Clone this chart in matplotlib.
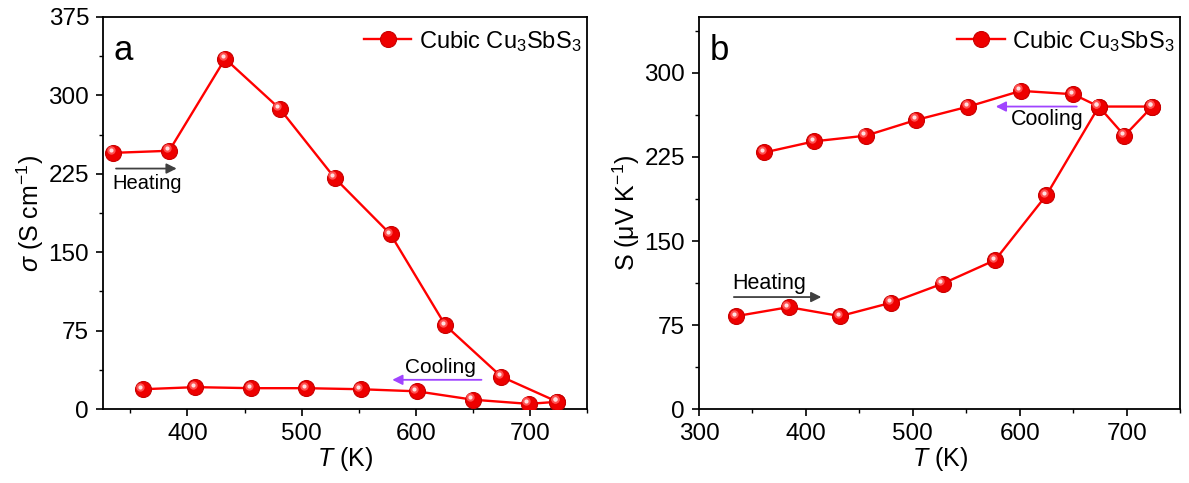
import matplotlib.pyplot as plt
import numpy as np
from matplotlib.ticker import MultipleLocator
from matplotlib.transforms import offset_copy

plt.rcParams['font.family'] = ['Liberation Sans', 'DejaVu Sans']
plt.rcParams['mathtext.fontset'] = 'custom'
plt.rcParams['mathtext.rm'] = 'Liberation Sans'
plt.rcParams['mathtext.it'] = 'Liberation Sans:italic'

# panel a: electrical conductivity
T_heat_a = [335, 384, 433, 481, 529, 578, 626, 675, 724]
sigma_heat = [245, 247, 335, 287, 221, 167, 80, 31, 7]
T_cool_a = [724, 699, 650, 601, 552, 504, 456, 407, 361]
sigma_cool = [7, 5, 9, 17, 19, 20, 20, 21, 19]

# panel b: Seebeck coefficient
T_heat_b = [335, 384, 432, 480, 528, 577, 625, 674, 724]
S_heat = [83, 91, 83, 95, 112, 133, 191, 270, 270]
T_cool_b = [724, 698, 674, 650, 601, 552, 503, 456, 408, 361]
S_cool = [270, 244, 270, 281, 284, 270, 258, 244, 239, 229]

legend_label = 'Cubic Cu$_3$SbS$_3$'
red = '#FF0000'


def draw_series(ax, x, y, label=None):
    ax.plot(x, y, '-', color=red, lw=1.7, marker='o', ms=11.5,
            mfc='#EE0000', mec='#C80000', mew=0.8, label=label, zorder=3)
    # light spot on the upper left, like the shaded spheres
    shift = offset_copy(ax.transData, fig=ax.figure, x=-2.5, y=2.5, units='dots')
    ax.plot(x, y, 'o', ms=6, mfc='#FF5050', mec='none', zorder=4,
            transform=shift)
    ax.plot(x, y, 'o', ms=3, mfc='#FFE0E0', mec='none', zorder=5,
            transform=shift)


def style_axis(ax, ymax, xmin):
    ax.set_xlim(xmin, 750)
    ax.set_ylim(0, ymax)
    ax.xaxis.set_major_locator(MultipleLocator(100))
    ax.xaxis.set_minor_locator(MultipleLocator(50))
    ax.yaxis.set_major_locator(MultipleLocator(75))
    ax.yaxis.set_minor_locator(MultipleLocator(37.5))
    ax.tick_params(which='major', direction='out', length=5, width=1.2,
                   labelsize=17.5, pad=5)
    ax.tick_params(which='minor', direction='out', length=3, width=1.0)
    for s in ax.spines.values():
        s.set_linewidth(1.3)
    ax.set_xlabel('$T$ (K)', fontsize=18, labelpad=0)


fig = plt.figure(figsize=(11.89, 4.83), dpi=100)
ax1 = fig.add_axes([0.0866, 0.153, 0.4071, 0.812])
ax2 = fig.add_axes([0.5879, 0.153, 0.4046, 0.812])

# panel a
draw_series(ax1, T_heat_a, sigma_heat, legend_label)
draw_series(ax1, T_cool_a, sigma_cool)
style_axis(ax1, 375, 326)
ax1.set_ylabel(r'$\sigma$ (S cm$^{-1}$)', fontsize=18, labelpad=2)
ax1.text(0.022, 0.915, 'a', transform=ax1.transAxes, fontsize=25,
         va='center', ha='left')
ax1.annotate('', xy=(393, 230), xytext=(335, 230),
             arrowprops=dict(arrowstyle='-|>', color='#404040', lw=1.3,
                             mutation_scale=15))
ax1.text(334, 216, 'Heating', fontsize=14.5, ha='left', va='center')
ax1.annotate('', xy=(577, 28), xytext=(660, 28),
             arrowprops=dict(arrowstyle='-|>', color='#A044FF', lw=1.3,
                             mutation_scale=15))
ax1.text(622, 40, 'Cooling', fontsize=15, ha='center', va='center')

# panel b
draw_series(ax2, T_heat_b, S_heat, legend_label)
draw_series(ax2, T_cool_b, S_cool)
style_axis(ax2, 350, 300)
ax2.set_ylabel('S (μV K$^{-1}$)', fontsize=18, labelpad=2)
ax2.text(0.022, 0.915, 'b', transform=ax2.transAxes, fontsize=25,
         va='center', ha='left')
ax2.annotate('', xy=(417, 100), xytext=(330, 100),
             arrowprops=dict(arrowstyle='-|>', color='#404040', lw=1.3,
                             mutation_scale=15))
ax2.text(331, 112, 'Heating', fontsize=15.5, ha='left', va='center')
ax2.annotate('', xy=(575, 270), xytext=(656, 270),
             arrowprops=dict(arrowstyle='-|>', color='#A044FF', lw=1.3,
                             mutation_scale=15))
ax2.text(626, 258, 'Cooling', fontsize=15.5, ha='center', va='center')

for ax in (ax1, ax2):
    ax.legend(loc='upper right', bbox_to_anchor=(1.0, 0.985), frameon=False,
              fontsize=17, handlelength=2.0, handletextpad=0.3,
              borderpad=0.2, borderaxespad=0.05)

fig.savefig('out.png', dpi=100)
